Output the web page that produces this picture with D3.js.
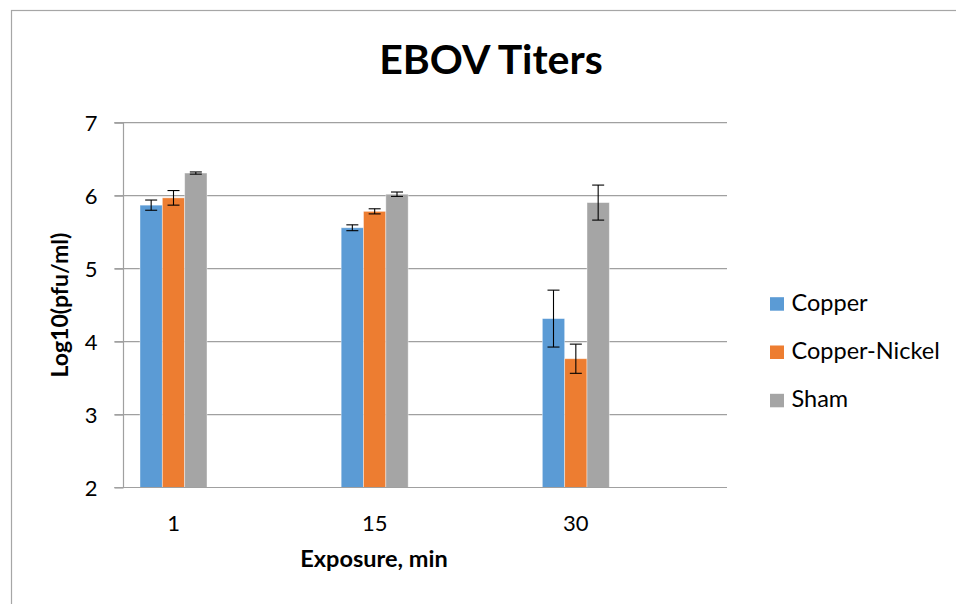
<!DOCTYPE html>
<html>
<head>
<meta charset="utf-8">
<script src="https://cdn.jsdelivr.net/npm/d3@7"></script>
<style>
html,body{margin:0;padding:0;background:#fff;}
svg{display:block;font-family:Lato,"Open Sans",sans-serif;}
</style>
</head>
<body>
<svg id="chart" width="956" height="604"></svg>
<script>
// ---- data ----
const categories = ["1", "15", "30"];
const seriesNames = ["Copper", "Copper-Nickel", "Sham"];
const copperValues = [5.87, 5.56, 4.315];
const copperNickelValues = [5.97, 5.785, 3.765];
const shamValues = [6.31, 6.02, 5.905];
const copperErrors = [0.07, 0.04, 0.39];
const copperNickelErrors = [0.10, 0.035, 0.20];
const shamErrors = [0.015, 0.03, 0.24];
const yTicks = [2, 3, 4, 5, 6, 7];
const colors = ["#5B9BD5", "#ED7D31", "#A5A5A5"];

const values = [copperValues, copperNickelValues, shamValues];
const errors = [copperErrors, copperNickelErrors, shamErrors];

// ---- layout ----
const svg = d3.select("#chart");
const plotLeft = 123.5, plotRight = 727, plotTop = 122.7, plotBottom = 487.5;
const groupOffset = 16.5, groupWidth = 67;

const x0 = d3.scaleBand().domain(categories).range([plotLeft, plotRight]).padding(0);
const x1 = d3.scaleBand().domain(seriesNames).range([0, groupWidth]).padding(0);
const y = d3.scaleLinear().domain([2, 7]).range([plotBottom, plotTop]);

// outer border
svg.append("rect").attr("x", 11.5).attr("y", 10.5).attr("width", 980).attr("height", 640)
  .attr("fill", "none").attr("stroke", "#A6A6A6").attr("stroke-width", 1.2);

// title
svg.append("text").attr("x", 491).attr("y", 73.5).attr("text-anchor", "middle")
  .attr("font-size", 41).attr("font-weight", "bold").attr("fill", "#000").text("EBOV Titers");

// gridlines
svg.append("g").selectAll("line").data(yTicks.filter(t => t > 2)).join("line")
  .attr("x1", plotLeft - 9).attr("x2", plotRight)
  .attr("y1", d => y(d)).attr("y2", d => y(d))
  .attr("stroke", "#A0A0A0").attr("stroke-width", 1.2);

// bars
const barG = svg.append("g");
seriesNames.forEach((s, si) => {
  barG.append("g").selectAll("rect").data(categories).join("rect")
    .attr("x", (c) => x0(c) + groupOffset + x1(s))
    .attr("width", x1.bandwidth())
    .attr("y", (c, i) => y(values[si][i]))
    .attr("height", (c, i) => y(2) - y(values[si][i]))
    .attr("fill", colors[si])
    .attr("stroke", "rgba(255,255,255,0.5)").attr("stroke-width", 0.8);
});

// error bars
const errG = svg.append("g").attr("stroke", "#000").attr("stroke-width", 1.1);
seriesNames.forEach((s, si) => {
  categories.forEach((c, i) => {
    const cx = x0(c) + groupOffset + x1(s) + x1.bandwidth() / 2;
    const hi = y(values[si][i] + errors[si][i]);
    const lo = y(values[si][i] - errors[si][i]);
    errG.append("line").attr("x1", cx).attr("x2", cx).attr("y1", hi).attr("y2", lo);
    errG.append("line").attr("x1", cx - 6).attr("x2", cx + 6).attr("y1", hi).attr("y2", hi);
    errG.append("line").attr("x1", cx - 6).attr("x2", cx + 6).attr("y1", lo).attr("y2", lo);
  });
});

// y axis
const yAxis = d3.axisLeft(y).tickValues(yTicks).tickSize(9).tickPadding(0).tickFormat(d3.format("d"));
const yg = svg.append("g").attr("transform", `translate(${plotLeft},0)`).call(yAxis);
yg.select(".domain").attr("stroke", "#A0A0A0").attr("stroke-width", 1.2).attr("d", `M-9,${plotTop}H0V${plotBottom}H-9`);
yg.selectAll(".tick line").attr("stroke", "#A0A0A0").attr("stroke-width", 1.2);
yg.selectAll(".tick text").attr("font-size", 22).attr("fill", "#000").attr("font-family", "Lato, sans-serif")
  .attr("text-anchor", "middle").attr("x", -32.5).attr("dy", "0.36em");

// x axis
const xAxis = d3.axisBottom(x0).tickSize(0).tickPadding(0);
const xg = svg.append("g").attr("transform", `translate(0,${plotBottom})`).call(xAxis);
xg.select(".domain").attr("stroke", "#A0A0A0").attr("stroke-width", 1.2).attr("d", `M${plotLeft - 9},0H${plotRight}`);
xg.selectAll(".tick").attr("transform", d => `translate(${x0(d) + groupOffset + groupWidth / 2},0)`);
xg.selectAll(".tick text").attr("font-size", 22).attr("fill", "#000").attr("font-family", "Lato, sans-serif")
  .attr("dy", null).attr("y", 43);

// axis titles
svg.append("text").attr("x", 374).attr("y", 566.5).attr("text-anchor", "middle")
  .attr("font-size", 23.5).attr("font-weight", "bold").text("Exposure, min");
svg.append("text").attr("transform", `translate(68,${(plotTop + plotBottom) / 2}) rotate(-90)`)
  .attr("text-anchor", "middle").attr("font-size", 23).attr("font-weight", "bold").text("Log10(pfu/ml)");

// legend
const legend = svg.append("g");
seriesNames.forEach((s, i) => {
  const ly = 310.7 + i * 48.3;
  legend.append("rect").attr("x", 770).attr("y", ly - 13.5).attr("width", 14).attr("height", 13.5).attr("fill", colors[i]);
  legend.append("text").attr("x", 791.5).attr("y", ly).attr("font-size", 23.5).attr("fill", "#000").text(s);
});
</script>
</body>
</html>
